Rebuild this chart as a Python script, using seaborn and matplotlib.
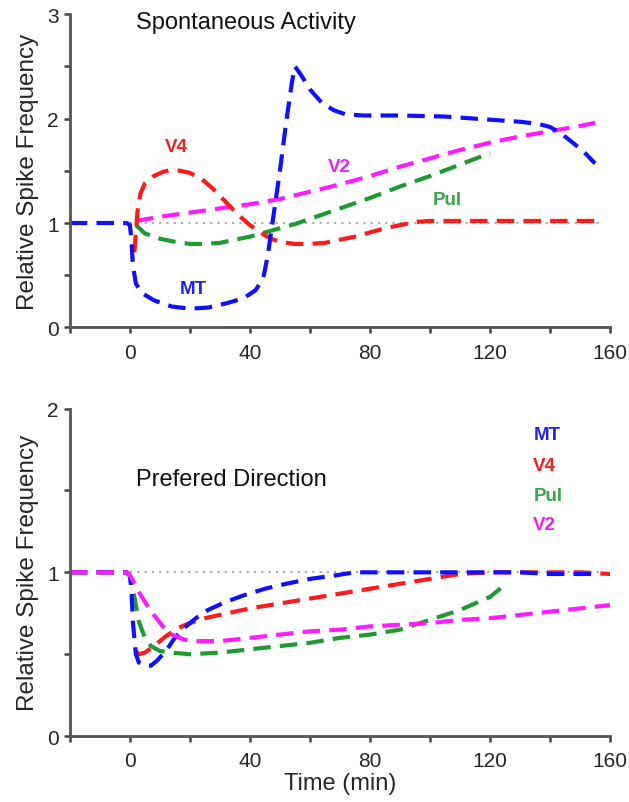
import numpy as np
import pandas as pd
import matplotlib
matplotlib.use("Agg")
import matplotlib.pyplot as plt
import seaborn as sns

sns.set_style("white")
plt.rcParams['font.family'] = ['Liberation Sans', 'DejaVu Sans']

# ---------------- data: top panel (Spontaneous Activity) ----------------
top_mt_x = [-20, -1, 0, 0.5, 1, 2, 4, 8, 14, 20, 26, 32, 38, 42, 44.5, 46, 47.5, 50, 52, 54, 55, 57, 60, 64, 68, 72, 78, 90, 105, 120, 130, 136, 140, 144, 148, 152, 155]
top_mt_y = [1, 1, 0.98, 0.85, 0.6, 0.42, 0.33, 0.26, 0.2, 0.18, 0.19, 0.23, 0.28, 0.36, 0.48, 0.7, 1.0, 1.5, 1.95, 2.35, 2.5, 2.42, 2.28, 2.15, 2.08, 2.04, 2.03, 2.03, 2.02, 1.99, 1.97, 1.95, 1.92, 1.85, 1.76, 1.66, 1.57]

top_v4_x = [1.5, 2, 2.5, 3.5, 5, 8, 11, 14, 17, 20, 24, 28, 32, 36, 40, 44, 47, 50, 55, 60, 65, 70, 75, 80, 85, 90, 95, 100, 110, 120, 130, 140, 150, 156]
top_v4_y = [0.72, 0.9, 1.1, 1.28, 1.38, 1.45, 1.49, 1.51, 1.5, 1.48, 1.42, 1.32, 1.2, 1.08, 0.98, 0.9, 0.85, 0.82, 0.8, 0.8, 0.81, 0.84, 0.87, 0.91, 0.95, 0.98, 1.01, 1.02, 1.02, 1.02, 1.02, 1.02, 1.02, 1.02]

top_v2_x = [2, 10, 20, 30, 40, 50, 60, 70, 80, 90, 100, 110, 120, 130, 140, 150, 155]
top_v2_y = [1.02, 1.06, 1.1, 1.14, 1.18, 1.23, 1.3, 1.37, 1.45, 1.54, 1.62, 1.7, 1.77, 1.83, 1.88, 1.93, 1.96]

top_pul_x = [2, 5, 10, 15, 20, 25, 30, 35, 40, 45, 50, 55, 60, 70, 80, 90, 100, 110, 120]
top_pul_y = [0.98, 0.9, 0.85, 0.82, 0.8, 0.8, 0.81, 0.84, 0.87, 0.91, 0.95, 0.99, 1.04, 1.14, 1.24, 1.35, 1.45, 1.56, 1.67]

# ---------------- data: bottom panel (Prefered Direction) ----------------
bot_mt_x = [-20, -1, 0, 0.5, 1, 2, 3, 5, 7, 9, 12, 15, 18, 22, 26, 32, 38, 45, 52, 60, 68, 75, 82, 90, 100, 110, 120, 130, 140, 150, 155]
bot_mt_y = [1, 1, 0.98, 0.9, 0.7, 0.5, 0.45, 0.43, 0.43, 0.46, 0.52, 0.6, 0.66, 0.72, 0.77, 0.82, 0.86, 0.9, 0.93, 0.96, 0.98, 1.0, 1.0, 1.0, 1.0, 1.0, 1.0, 1.0, 0.99, 0.99, 0.99]

bot_v4_x = [2, 3, 5, 8, 12, 16, 20, 25, 30, 40, 50, 60, 70, 80, 90, 100, 110, 120, 130, 140, 150, 160]
bot_v4_y = [0.52, 0.5, 0.51, 0.55, 0.61, 0.66, 0.69, 0.72, 0.74, 0.78, 0.81, 0.84, 0.87, 0.9, 0.93, 0.96, 0.99, 1.0, 1.0, 1.0, 1.0, 0.99]

bot_pul_x = [-20, -1, 0, 1, 2, 3, 5, 7, 10, 14, 20, 30, 40, 50, 60, 70, 80, 90, 95, 100, 110, 120, 124]
bot_pul_y = [1, 1, 0.98, 0.9, 0.8, 0.7, 0.6, 0.55, 0.52, 0.51, 0.5, 0.51, 0.53, 0.55, 0.57, 0.6, 0.62, 0.65, 0.68, 0.71, 0.77, 0.85, 0.91]

bot_v2_x = [-20, -1, 0, 1, 3, 5, 8, 11, 14, 18, 22, 26, 30, 40, 50, 60, 70, 80, 90, 100, 110, 120, 130, 140, 150, 160]
bot_v2_y = [1, 1, 0.98, 0.95, 0.88, 0.82, 0.74, 0.67, 0.62, 0.59, 0.58, 0.58, 0.58, 0.6, 0.62, 0.64, 0.65, 0.67, 0.68, 0.69, 0.71, 0.72, 0.74, 0.76, 0.78, 0.8]

colors = {"MT": "#1010ff", "V4": "#ff1a1a", "Pul": "#1f9a30", "V2": "#ff1aff"}
label_colors = {"MT": "#2020f0", "V4": "#f02020", "Pul": "#3aa64a", "V2": "#f020f0"}

x_major = [0, 40, 80, 120, 160]
x_minor = [-20, 20, 60, 100, 140]
baseline = 1.0
baseline_span = (0, 158)

top_series = [("Pul", top_pul_x, top_pul_y), ("V2", top_v2_x, top_v2_y),
              ("V4", top_v4_x, top_v4_y), ("MT", top_mt_x, top_mt_y)]
bot_series = [("Pul", bot_pul_x, bot_pul_y), ("V4", bot_v4_x, bot_v4_y),
              ("MT", bot_mt_x, bot_mt_y), ("V2", bot_v2_x, bot_v2_y)]

top_labels = [("V4", 11.6, 1.73), ("V2", 66, 1.54), ("Pul", 101, 1.23), ("MT", 16.7, 0.37)]
bot_labels = [("MT", 134.4, 1.84), ("V4", 134.4, 1.65), ("Pul", 134.4, 1.47), ("V2", 134.4, 1.29)]

fig = plt.figure(figsize=(6.29, 8.03), dpi=100)
ax1 = fig.add_axes([0.111, 0.591, 0.859, 0.390])
ax2 = fig.add_axes([0.111, 0.082, 0.859, 0.408])

dash = (0, (4.2, 2.2))

def draw(ax, series, labels, ymax, title, title_y):
    ax.hlines(baseline, *baseline_span, colors="#aaaaaa", linestyles=(0, (1, 2.5)), linewidth=1.5, zorder=1)
    for name, xs, ys in series:
        df = pd.DataFrame({"x": xs, "y": ys})
        sns.lineplot(data=df, x="x", y="y", ax=ax, color=colors[name], linewidth=3,
                     estimator=None, sort=False, linestyle=dash, zorder=2)
    for name, lx, ly in labels:
        ax.text(lx, ly, name, color=label_colors[name], fontsize=13.5, fontweight="bold",
                va="center", ha="left")
    ax.text(2, title_y, title, fontsize=17, va="center", ha="left", color="#111111")
    ax.set_xlim(-20, 160)
    ax.set_ylim(0, ymax)
    ax.set_xticks(x_major)
    ax.set_xticks(x_minor, minor=True)
    ax.set_yticks(list(range(0, ymax + 1)))
    ax.set_yticks([v + 0.5 for v in range(0, ymax)], minor=True)
    ax.tick_params(axis="both", which="both", direction="out", length=4, width=1.8,
                   color="#444444", labelsize=15, bottom=True, left=True)
    ax.tick_params(axis="x", which="major", pad=7)
    ax.tick_params(axis="y", which="major", pad=4)
    for s in ["top", "right"]:
        ax.spines[s].set_visible(False)
    for s in ["left", "bottom"]:
        ax.spines[s].set_color("#555555")
        ax.spines[s].set_linewidth(2)
    ax.set_ylabel("Relative Spike Frequency", fontsize=17.5, labelpad=6)
    ax.set_xlabel("")

draw(ax1, top_series, top_labels, 3, "Spontaneous Activity", 2.93)
draw(ax2, bot_series, bot_labels, 2, "Prefered Direction", 1.57)
ax2.set_xlabel("Time (min)", fontsize=17, labelpad=1)

fig.savefig("out.png", dpi=100)
